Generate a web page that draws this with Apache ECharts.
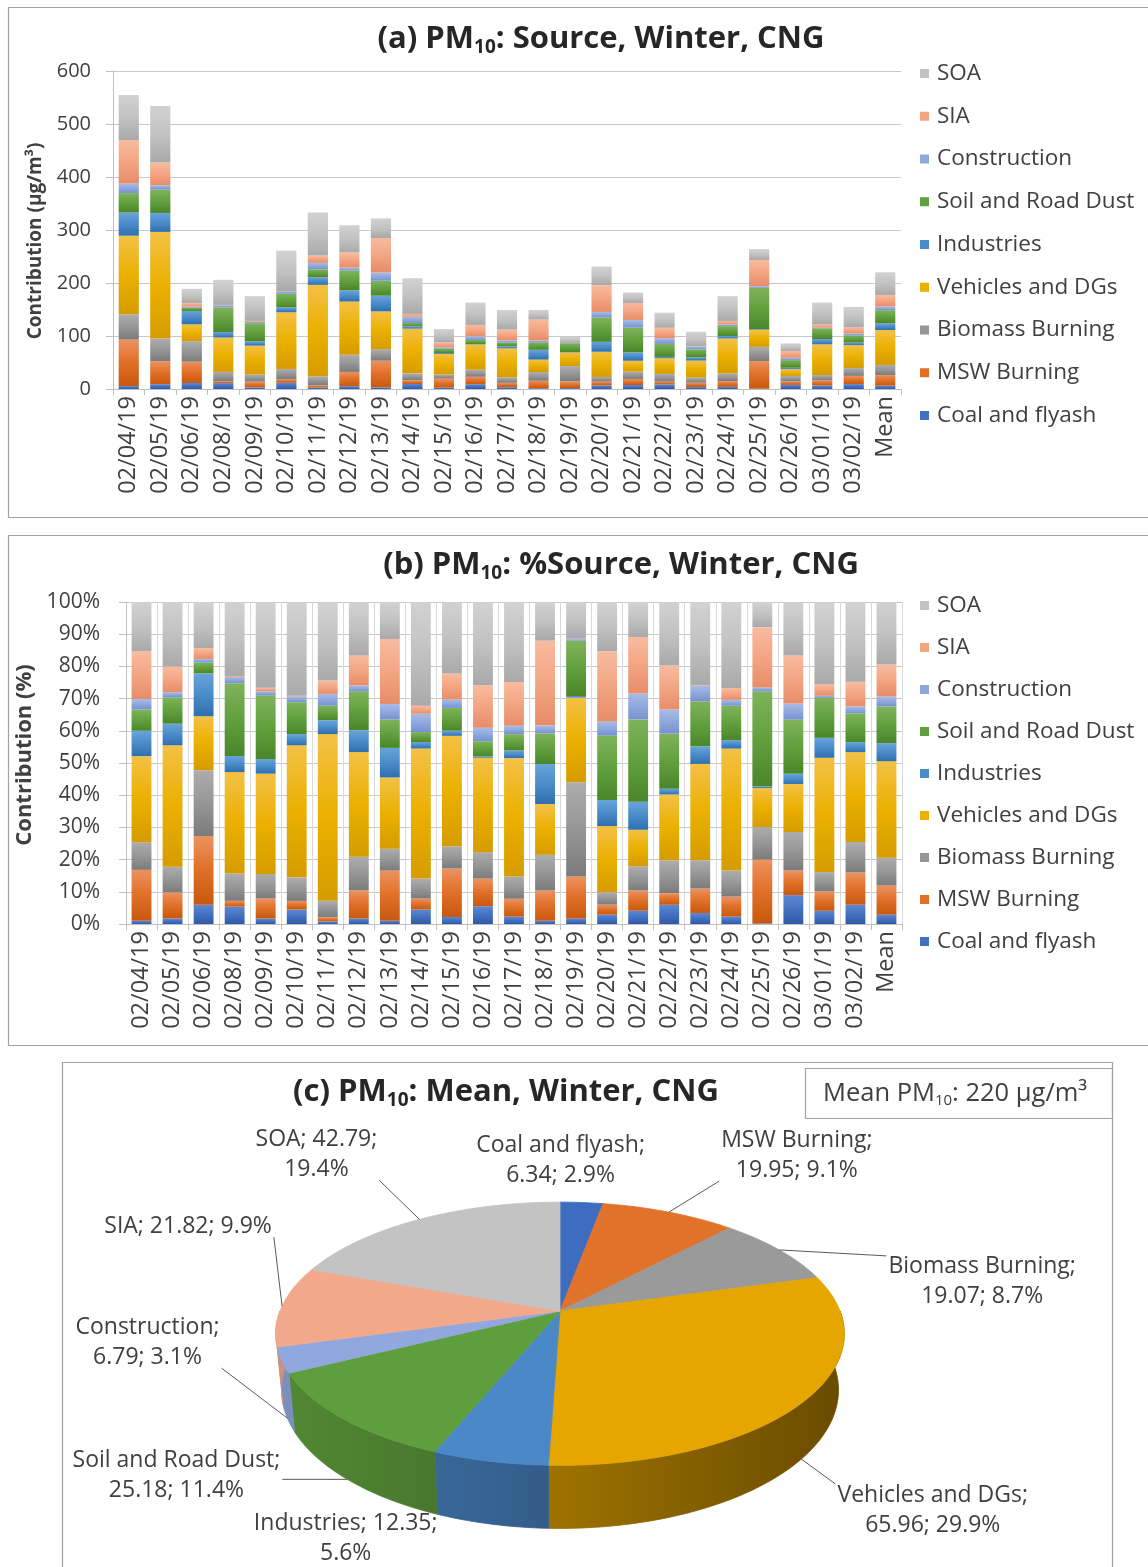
<!DOCTYPE html>
<html>
<head>
<meta charset="utf-8">
<title>PM10 source apportionment, Winter, CNG</title>
<script src="https://cdn.jsdelivr.net/npm/echarts@6/dist/echarts.min.js"></script>
<style>
  html, body { margin: 0; padding: 0; background: #ffffff; }
  #chart { width: 1148px; height: 1567px; }
</style>
</head>
<body>
<div id="chart"></div>
<script>
// Sampling days
const dates = ['02/04/19', '02/05/19', '02/06/19', '02/08/19', '02/09/19', '02/10/19', '02/11/19', '02/12/19',
  '02/13/19', '02/14/19', '02/15/19', '02/16/19', '02/17/19', '02/18/19', '02/19/19', '02/20/19', '02/21/19',
  '02/22/19', '02/23/19', '02/24/19', '02/25/19', '02/26/19', '03/01/19', '03/02/19'];

const sources = ['Coal and flyash', 'MSW Burning', 'Biomass Burning', 'Vehicles and DGs', 'Industries',
  'Soil and Road Dust', 'Construction', 'SIA', 'SOA'];

// Daily source contributions to PM10 (µg/m³)
const coalFlyash     = [5.6, 9.1, 11.3, 11.1, 3.0, 11.7, 2.7, 5.3, 3.2, 9.4, 2.5, 9.0, 3.4, 1.5, 1.7, 6.7, 7.5, 8.6, 3.7, 4.0, 0.5, 7.7, 6.7, 9.3];
const mswBurning     = [87.7, 43.3, 40.3, 3.7, 10.9, 7.0, 4.3, 26.9, 50.2, 7.1, 17.0, 14.0, 8.3, 14.0, 12.8, 7.2, 11.5, 5.2, 8.2, 10.9, 52.3, 6.6, 9.8, 15.5];
const biomassBurning = [47.7, 42.7, 38.6, 17.5, 13.3, 19.1, 17.0, 32.4, 21.9, 13.0, 7.8, 13.4, 10.3, 16.5, 28.7, 8.8, 13.7, 14.7, 9.5, 14.2, 26.7, 10.3, 9.8, 14.7];
const vehiclesDGs    = [148.2, 201.3, 31.8, 64.9, 54.6, 107.0, 172.5, 100.4, 71.2, 84.4, 38.8, 47.8, 54.8, 23.5, 25.8, 47.6, 20.6, 29.4, 32.3, 66.3, 31.9, 12.8, 57.9, 43.2];
const industries     = [43.8, 35.8, 25.1, 10.3, 7.9, 9.1, 14.3, 21.0, 29.6, 4.2, 1.8, 0.7, 3.6, 18.5, 0.5, 18.7, 15.8, 2.6, 5.9, 4.6, 1.3, 2.7, 10.1, 4.8];
const soilRoadDust   = [36.6, 43.8, 6.4, 46.6, 34.7, 25.8, 15.0, 37.4, 28.3, 6.5, 8.0, 7.7, 7.5, 14.2, 16.8, 46.2, 46.6, 24.6, 15.1, 18.7, 78.1, 14.5, 20.2, 13.8];
const construction   = [18.3, 8.5, 2.1, 3.9, 2.3, 4.7, 12.3, 5.6, 15.5, 11.9, 2.9, 6.8, 3.9, 3.6, 0.5, 10.2, 14.6, 10.8, 5.2, 3.2, 3.2, 4.3, 1.1, 3.4];
const sia            = [82.1, 42.7, 6.4, 0.6, 1.8, 0.5, 13.7, 28.7, 65.0, 5.2, 9.2, 21.5, 20.3, 39.3, 0.1, 50.4, 32.0, 19.7, 0.2, 6.5, 49.4, 12.8, 5.9, 11.8];
const soa            = [84.9, 106.8, 27.0, 47.4, 46.7, 76.0, 81.3, 51.3, 37.0, 67.3, 25.1, 42.2, 37.0, 17.9, 11.2, 35.3, 19.8, 28.4, 27.9, 46.7, 20.6, 14.3, 41.6, 38.4];

// Campaign mean contribution of each source (µg/m³), same order as `sources`
const meanContribution = [6.34, 19.95, 19.07, 65.96, 12.35, 25.18, 6.79, 21.82, 42.79];

// Axis ticks
const absTicks = { min: 0, max: 600, interval: 100 };
const pctTicks = { min: 0, max: 100, interval: 10 };

// ---------------------------------------------------------------------------
const FONT = "'Open Sans', Lato, sans-serif";
const TXT = '#404040';

// [light, base, dark] stops for the bar gradients
const barPalette = [
  ['#5d88d3', '#4371c2', '#2f58a5'],
  ['#ec9260', '#e06f27', '#c9580f'],
  ['#adadad', '#969696', '#7b7b7b'],
  ['#f3c146', '#ebb000', '#d69c00'],
  ['#67a4d9', '#4a8bc9', '#2f6fad'],
  ['#7fb35c', '#62a03e', '#4a862a'],
  ['#a8bbe5', '#8fa8dc', '#7791cf'],
  ['#f8bba0', '#f3a582', '#e78c68'],
  ['#d2d2d2', '#c2c2c2', '#a9a9a9']
];
const pieColors = ['#3d6cc0', '#e0722a', '#9a9a9a', '#e6a600', '#4a88c8', '#5f9e3c', '#90a8dd', '#f1a88b', '#c3c3c3'];

const categories = dates.concat(['Mean']);
const dailyRows = [coalFlyash, mswBurning, biomassBurning, vehiclesDGs, industries, soilRoadDust, construction, sia, soa];
const absRows = dailyRows.map((row, s) => row.concat([meanContribution[s]]));
const totals = categories.map((_, i) => absRows.reduce((acc, row) => acc + row[i], 0));
const pctRows = absRows.map(row => row.map((v, i) => v / totals[i] * 100));

function barGradient(s) {
  const p = barPalette[s];
  return new echarts.graphic.LinearGradient(0, 0, 0, 1, [
    { offset: 0, color: p[0] }, { offset: 0.5, color: p[1] }, { offset: 1, color: p[2] }
  ]);
}

function stackSeries(rows, axisIndex, stackName) {
  return rows.map((row, s) => ({
    name: sources[s],
    type: 'bar',
    stack: stackName,
    xAxisIndex: axisIndex,
    yAxisIndex: axisIndex,
    barWidth: '64%',
    data: row,
    itemStyle: { color: barGradient(s) },
    emphasis: { disabled: true },
    silent: true
  }));
}

function shade(hex, f) {
  const n = parseInt(hex.slice(1), 16);
  const r = Math.round(((n >> 16) & 255) * f), g = Math.round(((n >> 8) & 255) * f), b = Math.round((n & 255) * f);
  return 'rgb(' + r + ',' + g + ',' + b + ')';
}

// ---------------------------------------------------------------------------
// 3-D pie: a tilted disc seen in perspective
const pie3d = { px: 560, py: 1311, scale: 280, sinT: 0.456, cosT: 0.89, persp: 0.194, height: 0.227 };
// polar position on the disc (angle clockwise from the back, height, radius 0..1) -> screen
function project(theta, h, r) {
  const rad = r === undefined ? 1 : r;
  const X = rad * Math.sin(theta), Z = -rad * Math.cos(theta), Y = h;
  const v = Z * pie3d.sinT - Y * pie3d.cosT;
  const d = 1 - pie3d.persp * (Z * pie3d.cosT + Y * pie3d.sinT);
  return [pie3d.px + pie3d.scale * X / d, pie3d.py + pie3d.scale * v / d];
}
function arc(a0, a1, h) {
  const n = Math.max(2, Math.ceil(Math.abs(a1 - a0) / (Math.PI / 180)));
  const pts = [];
  for (let k = 0; k <= n; k++) pts.push(project(a0 + (a1 - a0) * k / n, h));
  return pts;
}

// label placement: offset from the slice rim, where the text wraps, leader line
const pieLabelLayout = [
  { dx: -21, dy: -42, wrap: 'name', leader: false },
  { dx: 128, dy: -57, wrap: 'name', leader: true },
  { dx: 203, dy: 32, wrap: 'name', leader: true },
  { dx: 126, dy: 111, wrap: 'name', leader: true },
  { dx: -144, dy: 77, wrap: 'value', leader: false },
  { dx: -166, dy: 57, wrap: 'name', leader: true },
  { dx: -134, dy: -18, wrap: 'name', leader: true },
  { dx: -94, dy: -80, wrap: 'none', leader: true },
  { dx: -103, dy: -65, wrap: 'value', leader: true }
];
const PIE_FONT = '23px ' + FONT;
const PIE_LINE = 30;
const measureCtx = document.createElement('canvas').getContext('2d');
measureCtx.font = PIE_FONT;

const meanTotal = meanContribution.reduce((a, b) => a + b, 0);
let running = 0;
const pieData = meanContribution.map((v, s) => {
  const start = running / meanTotal;
  running += v;
  return [start, running / meanTotal, v, s];
});

function renderSlice(params, api) {
  const s = api.value(3);
  const value = api.value(2);
  const a0 = api.value(0) * 2 * Math.PI, a1 = api.value(1) * 2 * Math.PI;
  const children = [];

  // visible wall along the front half
  const s0 = Math.max(a0, Math.PI / 2), s1 = Math.min(a1, 1.5 * Math.PI);
  if (s1 > s0) {
    const wall = new echarts.graphic.LinearGradient(pie3d.px - pie3d.scale, 0, pie3d.px + pie3d.scale, 0, [
      { offset: 0, color: shade(pieColors[s], 0.86) },
      { offset: 0.5, color: shade(pieColors[s], 0.68) },
      { offset: 1, color: shade(pieColors[s], 0.46) }
    ], true);
    children.push({
      type: 'polygon', z2: 1,
      shape: { points: arc(s0, s1, 0).concat(arc(s1, s0, -pie3d.height)) },
      style: { fill: wall, stroke: wall, lineWidth: 0.8 }
    });
  }
  // top face
  children.push({
    type: 'polygon', z2: 5,
    shape: { points: [project(0, 0, 0)].concat(arc(a0, a1, 0)) },
    style: { fill: pieColors[s], stroke: pieColors[s], lineWidth: 0.8 }
  });

  // label
  const mid = (a0 + a1) / 2;
  const front = Math.cos(mid) < 0;
  const rimTop = project(mid, 0);
  const target = front ? project(mid, -pie3d.height) : rimTop;
  const lay = pieLabelLayout[s];
  const pct = (value / meanTotal * 100).toFixed(1) + '%';
  const name = sources[s], val = value.toFixed(2);
  let text;
  if (lay.wrap === 'name') text = name + ';\n' + val + '; ' + pct;
  else if (lay.wrap === 'value') text = name + '; ' + val + ';\n' + pct;
  else text = name + '; ' + val + '; ' + pct;
  const lines = text.split('\n');
  const cx = rimTop[0] + lay.dx, cy = rimTop[1] + lay.dy;
  const w = Math.max.apply(null, lines.map(l => measureCtx.measureText(l).width));
  const h = lines.length * PIE_LINE;
  children.push({
    type: 'text', z2: 20,
    style: { text: text, x: cx, y: cy, align: 'center', verticalAlign: 'middle', font: PIE_FONT, fill: TXT, lineHeight: PIE_LINE }
  });
  if (lay.leader) {
    const bx = Math.min(Math.max(target[0], cx - w / 2 - 2), cx + w / 2 + 2);
    const by = Math.min(Math.max(target[1], cy - h / 2 + 4), cy + h / 2 - 4);
    children.push({
      type: 'line', z2: 20,
      shape: { x1: bx, y1: by, x2: target[0], y2: target[1] },
      style: { stroke: '#5a5a5a', lineWidth: 1 }
    });
  }
  return { type: 'group', children: children };
}

// ---------------------------------------------------------------------------
const legendData = sources.slice().reverse().map(n => ({ name: n, itemStyle: { color: barPalette[sources.indexOf(n)][1] } }));
function legendAt(top, gap) {
  return {
    orient: 'vertical', left: 915, top: top, itemWidth: 9, itemHeight: 9, itemGap: gap,
    icon: 'rect', selectedMode: false, data: legendData,
    textStyle: { fontFamily: FONT, fontSize: 22.5, lineHeight: 22, color: TXT, padding: [0, 0, 0, 3] }
  };
}

function catAxis(gridIndex, vSplit) {
  return {
    type: 'category', gridIndex: gridIndex, data: categories, boundaryGap: true,
    axisLine: { lineStyle: { color: '#bfbfbf' } },
    axisTick: { show: true, length: 6, lineStyle: { color: '#bfbfbf' } },
    axisLabel: { interval: 0, rotate: 90, margin: 7, fontFamily: FONT, fontSize: 23.5, color: TXT },
    splitLine: { show: vSplit, lineStyle: { color: '#d9d9d9' } }
  };
}
function valAxis(gridIndex, ticks, name, fmt, margin, nameGap, nameSize, namePad, labelSize) {
  return {
    type: 'value', gridIndex: gridIndex, min: ticks.min, max: ticks.max, interval: ticks.interval,
    name: name, nameLocation: 'middle', nameRotate: 90, nameGap: nameGap,
    nameTextStyle: { fontFamily: FONT, fontSize: nameSize, fontWeight: 'bold', color: TXT, padding: namePad },
    axisLine: { show: true, lineStyle: { color: '#bfbfbf' } },
    axisTick: { show: true, length: 7, lineStyle: { color: '#bfbfbf' } },
    axisLabel: { margin: margin, fontFamily: FONT, fontSize: labelSize, color: TXT, formatter: fmt },
    splitLine: { show: true, lineStyle: { color: '#c8c8c8' } }
  };
}

const titleRich = {
  t: { fontFamily: FONT, fontSize: 31, fontWeight: 'bold', fill: '#262626', lineHeight: 36 },
  s: { fontFamily: FONT, fontSize: 19, fontWeight: 'bold', fill: '#262626', lineHeight: 19, verticalAlign: 'bottom' }
};
function titleText(x, y, prefix, rest) {
  return {
    type: 'text', x: x, y: y, silent: true,
    style: { text: '{t|' + prefix + ' PM}{s|10}{t|: ' + rest + '}', rich: titleRich, align: 'center', verticalAlign: 'middle' }
  };
}
function frame(x, y, w, h) {
  return { type: 'rect', silent: true, shape: { x: x, y: y, width: w, height: h }, style: { fill: 'none', stroke: '#a3a3a3', lineWidth: 1.2 } };
}

const option = {
  animation: false,
  backgroundColor: '#ffffff',
  grid: [
    { left: 113, top: 71, width: 788, height: 318 },
    { left: 126, top: 602, width: 776, height: 322 }
  ],
  xAxis: [catAxis(0, false), catAxis(1, true)],
  yAxis: [
    valAxis(0, absTicks, 'Contribution (µg/m³)', '{value}', 22, 68, 19, [0, 22, 0, 0], 20),
    valAxis(1, pctTicks, 'Contribution (%)', '{value}%', 26, 74, 22, [0, 0, 0, 16], 21)
  ],
  legend: [legendAt(57, 19.75), legendAt(589, 19)],
  series: stackSeries(absRows, 0, 'abs').concat(stackSeries(pctRows, 1, 'pct')).concat([{
    type: 'custom',
    name: 'Mean contribution',
    coordinateSystem: 'none',
    silent: true,
    data: pieData,
    renderItem: renderSlice
  }]),
  graphic: [
    frame(8.5, 7.5, 1145, 510),
    frame(8.5, 535.5, 1145, 510),
    frame(62.5, 1062.5, 1050, 520),
    titleText(601, 39, '(a)', 'Source, Winter, CNG'),
    titleText(621, 565, '(b)', '%Source, Winter, CNG'),
    titleText(506, 1092, '(c)', 'Mean, Winter, CNG'),
    frame(805.5, 1068.5, 307, 50),
    {
      type: 'text', x: 823, y: 1094, silent: true,
      style: {
        text: '{n|Mean PM}{s|10}{n|: ' + Math.round(meanTotal) + ' µg/m³}',
        rich: {
          n: { fontFamily: FONT, fontSize: 25.5, fill: TXT, lineHeight: 28 },
          s: { fontFamily: FONT, fontSize: 15, fill: TXT, lineHeight: 15, verticalAlign: 'bottom' }
        },
        align: 'left', verticalAlign: 'middle'
      }
    }
  ]
};

const chart = echarts.init(document.getElementById('chart'), null, { renderer: 'canvas', width: 1148, height: 1567 });
chart.setOption(option);
</script>
</body>
</html>
